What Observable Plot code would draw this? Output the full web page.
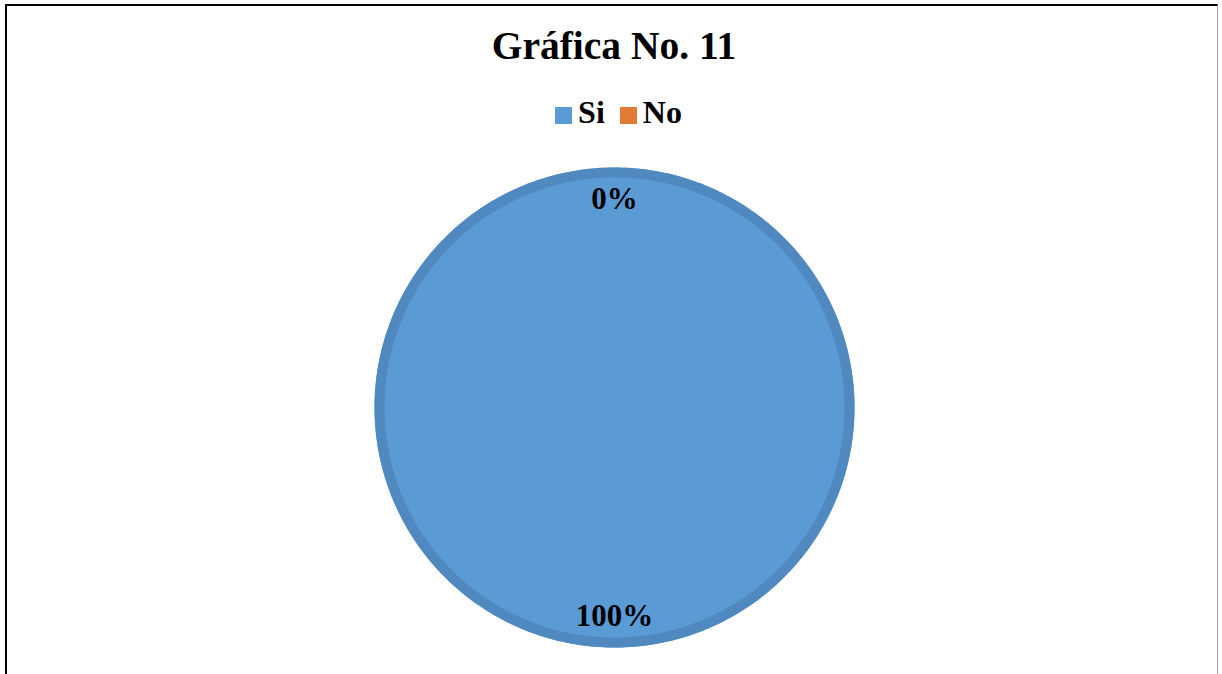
<!DOCTYPE html>
<html>
<head>
<meta charset="utf-8">
<script src="https://cdn.jsdelivr.net/npm/d3@7"></script>
<script src="https://cdn.jsdelivr.net/npm/@observablehq/plot@0.6"></script>
<style>
  html, body { margin: 0; padding: 0; background: #fff; }
  body { width: 1222px; height: 674px; position: relative; overflow: hidden; font-family: "Liberation Serif", "Times New Roman", serif; }
  #frame { position: absolute; left: 5px; top: 4px; width: 1213px; height: 700px; border-left: 2px solid #000; border-top: 2px solid #000; border-right: 1px solid #a6a6a6; box-sizing: border-box; }
  #title { position: absolute; left: 0; width: 1228px; top: 27px; text-align: center; font-size: 39.5px; line-height: 1; font-weight: bold; color: #000; }
  #legend { position: absolute; left: 0; width: 1252px; top: 96px; text-align: center; font-size: 32px; line-height: 1; font-weight: bold; color: #000; }
  #legend .item { display: inline-block; margin: 0 15px 0 0; }
  #legend .sw { display: inline-block; width: 17px; height: 17px; margin-right: 6px; vertical-align: -1px; }
  #chart { position: absolute; left: 0; top: 140px; }
</style>
</head>
<body>
<div id="frame"></div>
<div id="title">Gráfica No. 11</div>
<div id="legend"></div>
<div id="chart"></div>
<script>
const categories = ["Si", "No"];
const values = [100, 0];
const colors = ["#5b9bd5", "#e07a34"];
const edgeColors = ["#5089c0", "#c96c2c"];

// legend
const legend = document.getElementById("legend");
categories.forEach((c, i) => {
  const item = document.createElement("span");
  item.className = "item";
  const sw = document.createElement("span");
  sw.className = "sw";
  sw.style.background = colors[i];
  item.appendChild(sw);
  item.appendChild(document.createTextNode(c));
  legend.appendChild(item);
});

const total = d3.sum(values);
const arcs = d3.pie().sort(null).startAngle(0).endAngle(2 * Math.PI)(values);

const slicePts = [];
const edgePts = [];
const labels = [];
const ringInset = 5 / 240;
arcs.forEach((a, i) => {
  const cat = categories[i];
  const span = a.endAngle - a.startAngle;
  const n = Math.max(2, Math.ceil(span / (Math.PI / 180)));
  if (span > 0) {
    if (span < 2 * Math.PI - 1e-9) slicePts.push({cat, x: 0, y: 0});
    for (let k = 0; k <= n; k++) {
      const t = a.startAngle + span * k / n;
      slicePts.push({cat, x: Math.sin(t), y: Math.cos(t)});
      edgePts.push({cat, x: Math.sin(t) * (1 - ringInset), y: Math.cos(t) * (1 - ringInset)});
    }
  }
  const mid = (a.startAngle + a.endAngle) / 2;
  const lr = 0.87;
  labels.push({cat, x: Math.sin(mid) * lr, y: Math.cos(mid) * lr, text: Math.round(values[i] / total * 100) + "%"});
});

const pxPerUnit = 240;
const W = 1222, H = 534, cx = 614, cy = 267;

const plot = Plot.plot({
  width: W,
  height: H,
  margin: 0,
  x: {domain: [-cx / pxPerUnit, (W - cx) / pxPerUnit], axis: null},
  y: {domain: [-(H - cy) / pxPerUnit, cy / pxPerUnit], axis: null},
  color: {domain: categories, range: colors},
  style: {background: "transparent", overflow: "visible"},
  marks: [
    Plot.line(slicePts, {x: "x", y: "y", z: "cat", fill: "cat", stroke: "none", curve: "linear"}),
    Plot.line(edgePts, {x: "x", y: "y", z: "cat", stroke: d => edgeColors[categories.indexOf(d.cat)], strokeWidth: 10, fill: "none"}),
    Plot.text(labels, {x: "x", y: "y", text: "text", fontSize: 31, fontWeight: "bold", fontFamily: "Liberation Serif, Times New Roman, serif", fill: "#000", textAnchor: "middle"})
  ]
});
document.getElementById("chart").appendChild(plot);
</script>
</body>
</html>
